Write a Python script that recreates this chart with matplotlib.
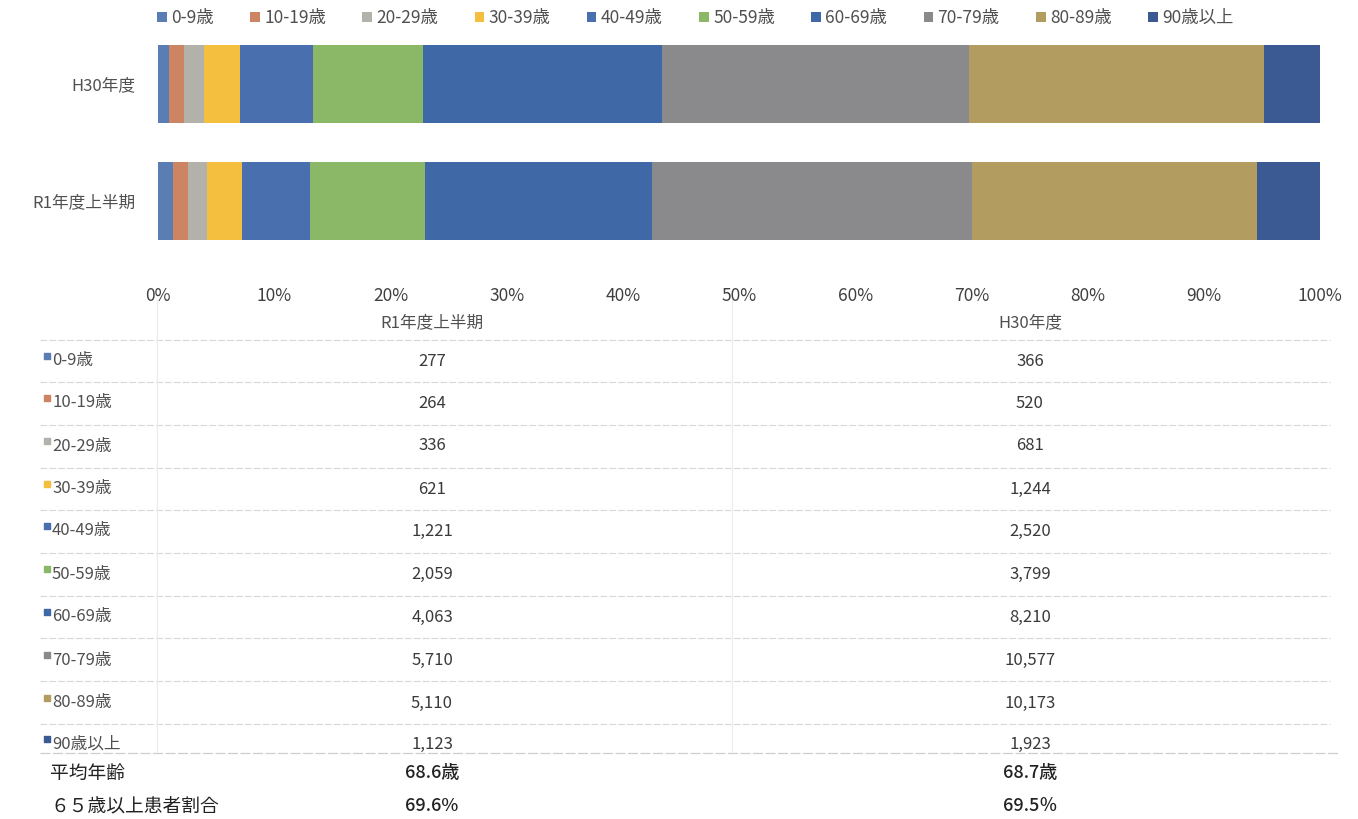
import numpy as np
import matplotlib.pyplot as plt

plt.rcParams['font.family'] = ['Noto Sans CJK JP', 'DejaVu Sans']

# 年齢階級
age_groups = ['0-9歳', '10-19歳', '20-29歳', '30-39歳', '40-49歳',
              '50-59歳', '60-69歳', '70-79歳', '80-89歳', '90歳以上']
colors = ['#5a7db3', '#cd8462', '#b2b2aa', '#f4bf3f', '#4a6fae',
          '#8ab866', '#3f68a6', '#8a8a8c', '#b39c5f', '#3b5a94']

# 患者数
periods = ['R1年度上半期', 'H30年度']
r1_counts = [277, 264, 336, 621, 1221, 2059, 4063, 5710, 5110, 1123]
h30_counts = [366, 520, 681, 1244, 2520, 3799, 8210, 10577, 10173, 1923]
r1_count_labels = ['277', '264', '336', '621', '1,221', '2,059', '4,063', '5,710', '5,110', '1,123']
h30_count_labels = ['366', '520', '681', '1,244', '2,520', '3,799', '8,210', '10,577', '10,173', '1,923']

summary_labels = ['平均年齢', '６５歳以上患者割合']
r1_summary = ['68.6歳', '69.6%']
h30_summary = ['68.7歳', '69.5％']

W, H = 1358, 819
fig = plt.figure(figsize=(W / 100, H / 100), dpi=100)

# ---- 表 (ピクセル座標) ----
tax = fig.add_axes([0, 0, 1, 1])
tax.set_xlim(0, W)
tax.set_ylim(H, 0)
tax.axis('off')

row_y = [361, 403, 446, 489, 531, 574, 617, 660, 703, 744]
line_y = [340, 382, 425, 468, 510, 553, 596, 638, 681, 724]
col1_x, col2_x = 432, 1030
txt = '#3a3a3a'

tax.text(col1_x, 323, periods[0], ha='center', va='center', fontsize=12, color='#505050')
tax.text(col2_x, 323, periods[1], ha='center', va='center', fontsize=12, color='#505050')

for ly in line_y:
    tax.plot([40, 1330], [ly, ly], color='#d8d8d8', lw=0.8, ls=(0, (6, 2)))
tax.plot([40, 1340], [753, 753], color='#cfcfcf', lw=0.9, ls=(0, (8, 2)))
tax.plot([157, 157], [300, 752], color='#ececec', lw=0.8)
tax.plot([732, 732], [300, 752], color='#ececec', lw=0.8)

for i, name in enumerate(age_groups):
    y = row_y[i]
    tax.scatter([47], [y - 5], marker='s', s=22, color=colors[i], zorder=3)
    tax.text(52, y, name, ha='left', va='center', fontsize=12, color='#505050')
    tax.text(col1_x, y, r1_count_labels[i], ha='center', va='center', fontsize=12, color=txt)
    tax.text(col2_x, y, h30_count_labels[i], ha='center', va='center', fontsize=12, color=txt)

for i, name in enumerate(summary_labels):
    y = [773, 806][i]
    tax.text(50, y, name, ha='left', va='center', fontsize=13.5, color='#222222')
    tax.text(col1_x, y, r1_summary[i], ha='center', va='center', fontsize=13,
             color='#222222', fontweight='medium')
    tax.text(col2_x, y, h30_summary[i], ha='center', va='center', fontsize=13,
             color='#222222', fontweight='medium')

# ---- 100%積み上げ横棒 ----
counts = np.array([r1_counts, h30_counts], dtype=float)
shares = counts / counts.sum(axis=1, keepdims=True) * 100

ax = fig.add_axes([158 / W, 1 - 259.5 / H, (1320 - 158) / W, 234 / H])
left = np.zeros(len(periods))
for j, name in enumerate(age_groups):
    ax.barh(np.arange(len(periods)), shares[:, j], left=left, height=0.67,
            color=colors[j], label=name, edgecolor='none')
    left += shares[:, j]

ax.set_xlim(0, 100)
ax.set_ylim(-0.5, 1.5)
ax.set_yticks(np.arange(len(periods)))
ax.set_yticklabels(periods, fontsize=12, color='#505050')
ax.set_xticks(np.arange(0, 101, 10))
ax.set_xticklabels([f'{v}%' for v in range(0, 101, 10)], fontsize=12.5, color='#404040')
ax.tick_params(axis='y', length=0, pad=16)
ax.tick_params(axis='x', length=0, pad=20)
for s in ax.spines.values():
    s.set_visible(False)
ax.patch.set_alpha(0)

fig.legend(loc='upper center', bbox_to_anchor=(0.512, 1.008), ncol=10, frameon=False,
           fontsize=12.5, handlelength=0.55, handleheight=0.55, handletextpad=0.25,
           columnspacing=2.1, labelcolor='#505050')

fig.savefig('out.png', dpi=100)
